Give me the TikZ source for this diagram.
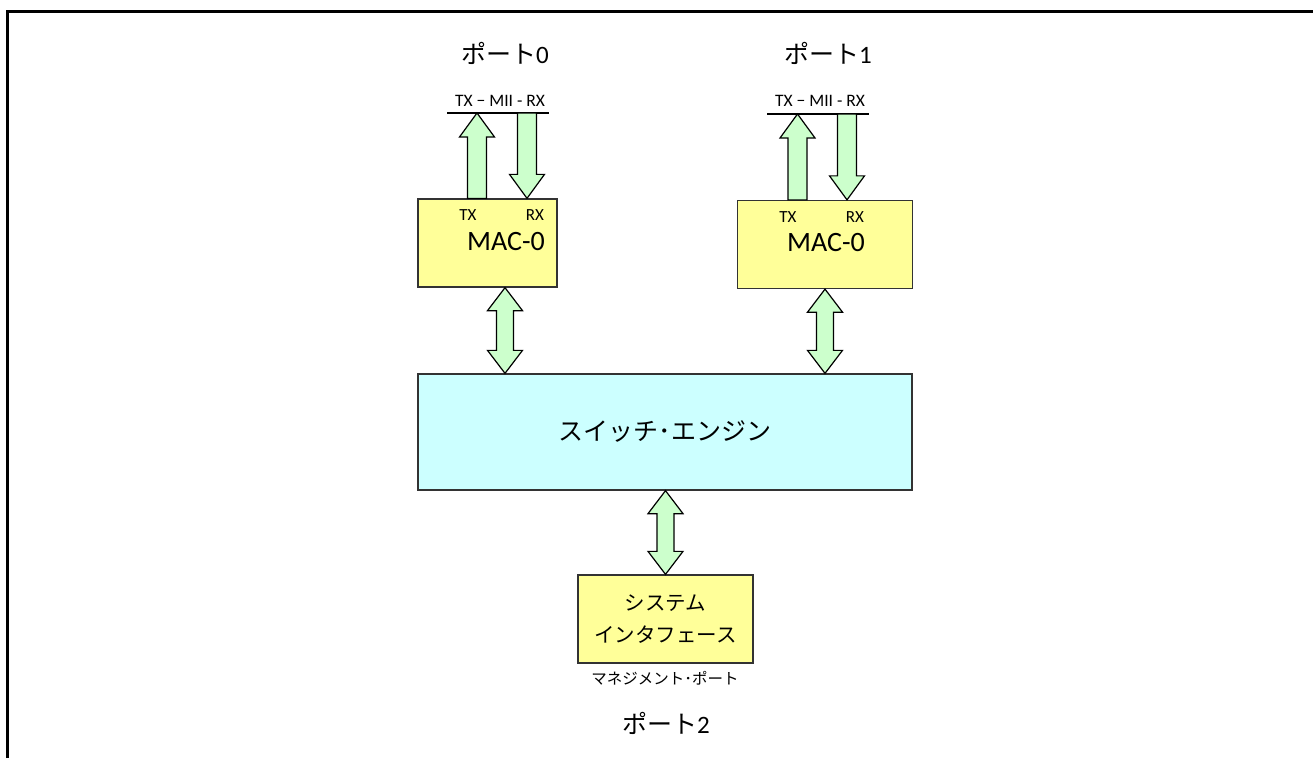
\documentclass[tikz,border=0pt]{standalone}
\usepackage{fontspec}
\setmainfont{Carlito}
\newfontfamily\jp{Noto Sans CJK JP}
\usetikzlibrary{calc}

\definecolor{macyellow}{HTML}{FFFF99}
\definecolor{swcyan}{HTML}{CCFFFF}
\definecolor{pipegreen}{HTML}{CCFFCC}
\definecolor{edgegray}{HTML}{333333}

\begin{document}
\begin{tikzpicture}[
    x=1pt, y=1pt,
    boxnode/.style={rectangle, draw=edgegray, line width=1.3pt, inner sep=0pt},
    macnode/.style={boxnode, fill=macyellow, minimum width=#1, minimum height=88pt},
    swnode/.style={boxnode, fill=swcyan, minimum width=494pt, minimum height=116pt},
    portlabel/.style={inner sep=0pt, font=\fontsize{25}{29}\selectfont},
    miilabel/.style={inner sep=0pt, font=\fontsize{17.5}{20}\selectfont},
    pinlabel/.style={inner sep=0pt, font=\fontsize{17}{19}\selectfont},
    maclabel/.style={inner sep=0pt, font=\fontsize{28}{32}\selectfont},
    pipe/.style={draw=black, line width=1.2pt, fill=pipegreen, line join=miter},
    oneway/.style={to path={let \p1=(\tikztostart), \p2=(\tikztotarget),
        \n1={(\y2-\y1)/abs(\y2-\y1)} in
        ({\x1-9.5pt},\y1) -- ({\x1-9.5pt},{\y2-24pt*\n1}) -- ({\x1-17.5pt},{\y2-24pt*\n1})
        -- (\x1,\y2) -- ({\x1+17.5pt},{\y2-24pt*\n1}) -- ({\x1+9.5pt},{\y2-24pt*\n1})
        -- ({\x1+9.5pt},\y1) -- cycle}},
    twoway/.style={to path={let \p1=(\tikztostart), \p2=(\tikztotarget),
        \n1={(\y2-\y1)/abs(\y2-\y1)} in
        (\x1,\y1) -- ({\x1-17.5pt},{\y1+23pt*\n1}) -- ({\x1-8.5pt},{\y1+23pt*\n1})
        -- ({\x1-8.5pt},{\y2-23pt*\n1}) -- ({\x1-17.5pt},{\y2-23pt*\n1}) -- (\x1,\y2)
        -- ({\x1+17.5pt},{\y2-23pt*\n1}) -- ({\x1+8.5pt},{\y2-23pt*\n1})
        -- ({\x1+8.5pt},{\y1+23pt*\n1}) -- ({\x1+17.5pt},{\y1+23pt*\n1}) -- cycle}}
]
\useasboundingbox (0,0) rectangle (1313,-758);
\draw[line width=3pt] (7.5,-758) -- (7.5,-11) -- (1313,-11);

% blocks
\node[macnode=139pt] (mac0) at (487.5,-243) {};
\node[macnode=175pt] (mac1) at (825,-244.5) {};
\node[swnode] (sw) at (665,-432) {};
\node[macnode=175pt] (sysif) at (665.5,-619) {};

% texts
\node[portlabel] (port0) at (505,-53) {{\jp ポート}0};
\node[portlabel] (port1) at (828,-53) {{\jp ポート}1};
\node[portlabel] (port2) at (666,-723) {{\jp ポート}2};
\node[miilabel] (mii0lbl) at (500,-101) {TX − MII - RX};
\node[miilabel] (mii1lbl) at (820,-101) {TX − MII - RX};
\node[pinlabel] (tx0lbl) at (468,-215) {TX};
\node[pinlabel] (rx0lbl) at (535,-215) {RX};
\node[pinlabel] (tx1lbl) at (788,-217) {TX};
\node[pinlabel] (rx1lbl) at (855,-217) {RX};
\node[maclabel] (mac0lbl) at (506,-242) {MAC-0};
\node[maclabel] (mac1lbl) at (826,-243) {MAC-0};
\node[inner sep=0pt, font=\jp\fontsize{25}{29}\selectfont] (swlbl) at (sw) {スイッチ･エンジン};
\node[inner sep=0pt, align=center, font=\jp\fontsize{20.5}{32}\selectfont] (sysiflbl) at (sysif) {システム\\インタフェース};
\node[inner sep=0pt, font=\jp\fontsize{15.5}{17}\selectfont] (mgmtlbl) at (665,-678) {マネジメント･ポート};

% MII lines
\coordinate (mii0w) at (447,-113);
\coordinate (mii0e) at (549,-113);
\coordinate (mii1w) at (767,-114);
\coordinate (mii1e) at (869,-114);
\draw[line width=1.2pt] (mii0w) -- (mii0e);
\draw[line width=1.2pt] (mii1w) -- (mii1e);

% TX / RX pipes
\coordinate (tx0) at (477,-113);
\coordinate (rx0) at (527,-113);
\coordinate (tx1) at (797.5,-114);
\coordinate (rx1) at (847,-114);
\draw[pipe, oneway] (tx0 |- mac0.north) to (tx0);
\draw[pipe, oneway] (rx0) to (rx0 |- mac0.north);
\draw[pipe, oneway] (tx1 |- mac1.north) to (tx1);
\draw[pipe, oneway] (rx1) to (rx1 |- mac1.north);

% links to switch
\coordinate (link0) at (505,-330);
\coordinate (link1) at (825,-330);
\draw[pipe, twoway] (link0 |- mac0.south) to (link0 |- sw.north);
\draw[pipe, twoway] (link1 |- mac1.south) to (link1 |- sw.north);
\draw[pipe, twoway] (sw.south -| sysif.north) to (sysif.north);
\end{tikzpicture}
\end{document}
